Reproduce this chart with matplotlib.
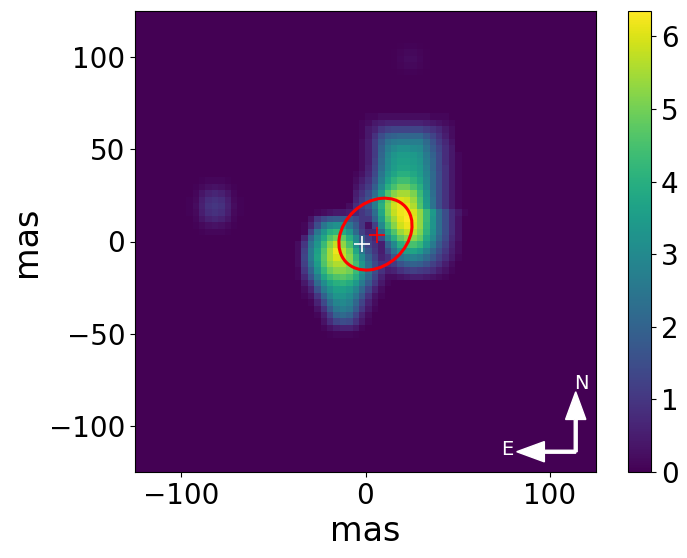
import numpy as np
import matplotlib
matplotlib.use("Agg")
import matplotlib.pyplot as plt
from matplotlib.patches import Ellipse

# values, cell by cell, top row first
main_rows = [
    [0,0,0,0,0,0,0,0,0,0,0,.1,.1,.2,.2,.2,.2,.2,.2,.2,.2,.1,.1,.1],
    [0,0,0,0,0,0,0,0,0,0,.1,.2,.4,.5,.6,.6,.6,.6,.6,.6,.5,.4,.3,.2,.1],
    [0,0,0,0,0,0,0,0,0,0,.1,.4,.6,1.0,1.2,1.3,1.3,1.3,1.3,1.3,1.1,.9,.7,.4,.2],
    [0,0,0,0,0,0,0,0,0,0,.1,.4,.9,1.5,1.9,2.0,2.1,2.1,2.1,2.1,1.7,1.3,.9,.5,.2],
    [0,0,0,0,0,0,0,0,0,0,.2,.5,1.1,1.8,2.4,2.6,2.7,2.7,2.7,2.7,2.2,1.6,1.1,.7,.3],
    [0,0,0,0,0,0,0,0,0,0,.2,.5,1.1,2.0,2.7,3.0,3.2,3.2,3.1,3.0,2.4,1.8,1.3,.8,.4],
    [0,0,0,0,0,0,0,0,0,0,.2,.5,1.1,2.1,2.9,3.3,3.5,3.5,3.4,3.2,2.6,2.0,1.4,.8,.4,.1],
    [0,0,0,0,0,0,0,0,0,0,.2,.5,1.2,2.2,3.0,3.4,3.6,3.6,3.5,3.3,2.7,2.1,1.4,.8,.4,.1],
    [0,0,0,0,0,0,0,0,0,0,.2,.6,1.3,2.3,3.1,3.5,3.7,3.7,3.6,3.4,2.8,2.1,1.4,.9,.4,.1],
    [0,0,0,0,0,0,0,0,0,.1,.3,.7,1.4,2.5,3.3,3.7,4.0,4.0,3.8,3.5,2.9,2.2,1.5,.9,.4,.1],
    [0,0,0,0,0,0,0,0,0,.2,.5,.9,1.6,2.7,3.6,4.1,4.4,4.4,4.1,3.7,3.0,2.2,1.5,.9,.4,.1],
    [0,0,0,0,0,0,0,0,0,.3,.7,1.1,1.9,3.0,4.0,4.5,4.9,4.9,4.5,4.0,3.1,2.2,1.5,.9,.4,.1],
    [0,0,0,0,0,0,0,0,0,.5,.9,1.4,2.3,3.5,4.6,5.2,5.5,5.5,5.1,4.3,3.3,2.3,1.5,.9,.4,.1],
    [0,0,0,0,0,0,0,0,0,.6,1.1,1.6,2.7,3.8,5.0,5.7,6.0,5.9,5.4,4.5,3.4,2.4,1.5,.9,.4,.1],
    [0,0,0,0,0,0,0,0,.2,.8,1.2,1.6,2.7,4.0,5.2,5.9,6.2,6.1,5.6,4.6,3.5,2.4,1.5,.9,.4,.1],
    [0,0,0,.1,.2,.3,.4,.4,.5,.7,1.0,1.3,2.3,3.8,5.1,5.8,6.2,6.3,6.0,5.3,4.3,3.4,2.3,1.5,.8,.4,.1],
    [0,0,.3,1.0,1.4,1.7,1.8,1.8,1.7,1.4,1.0,1.0,2.0,3.5,4.8,5.5,6.1,6.35,6.1,5.3,4.3,3.3,2.3,1.5,.8,.3],
    [0,.1,.6,1.5,2.5,3.0,3.2,3.2,2.5,1.8,1.0,.25,1.2,3.0,4.4,5.2,5.9,6.2,6.0,5.3,4.2,3.3,2.3,1.5,.8,.3],
    [0,.1,1.2,2.5,3.3,4.0,4.2,3.9,3.3,2.2,1.2,.7,.7,2.2,3.7,4.6,5.4,5.8,5.7,5.1,4.1,3.2,2.3,1.5,.8,.3],
    [0,.6,2.0,3.0,3.8,4.6,5.0,4.8,4.0,3.0,1.8,1.1,.7,1.5,3.0,4.0,4.8,5.2,5.2,4.8,3.8,3.0,2.1,1.4,.7,.3],
    [.2,1.0,2.4,3.3,4.3,5.2,5.8,5.3,4.5,3.2,2.0,1.3,.9,.5,2.0,3.0,4.0,4.4,4.5,4.2,3.4,2.6,1.8,1.2,.6,.2],
    [.2,1.2,2.6,3.6,4.6,5.5,6.2,5.7,5.0,3.8,2.5,1.6,1.0,.5,1.4,2.4,3.2,3.6,3.7,3.4,2.8,2.1,1.5,1.0,.5,.2],
    [.2,1.3,2.6,3.7,4.7,5.5,6.0,5.8,5.2,4.2,3.0,2.0,1.2,.6,.9,1.7,2.4,2.7,2.8,2.6,2.2,1.7,1.2,.8,.4,.1],
    [.2,1.2,2.4,3.5,4.6,5.3,5.6,5.6,5.2,4.4,3.3,2.3,1.4,.9,.9,1.1,1.6,1.9,2.0,1.9,1.6,1.2,.9,.5,.2],
    [.1,1.0,2.0,3.2,4.2,4.9,5.2,5.2,5.0,4.3,3.3,2.4,1.5,.9,.5,.6,.9,1.1,1.2,1.1,1.0,.8,.5,.3,.1],
    [.1,.7,1.6,2.7,3.7,4.3,4.6,4.7,4.5,4.0,3.0,2.2,1.3,.6,.2,.2,.3,.4,.5,.5,.4,.3,.2,.1],
    [0,.4,1.0,2.2,3.1,3.7,4.0,4.1,3.9,3.4,2.6,1.8,1.0,.4,.1],
    [0,.2,.6,1.6,2.6,3.2,3.6,3.6,3.4,2.9,2.1,1.3,.6,.2],
    [0,.1,.3,1.0,2.0,2.8,3.3,3.3,3.1,2.5,1.7,.9,.3,.1],
    [0,0,.1,.6,1.4,2.3,2.9,3.0,2.8,2.1,1.3,.6,.2],
    [0,0,0,.3,.9,1.8,2.5,2.7,2.5,1.8,1.0,.4,.1],
    [0,0,0,.1,.5,1.2,2.0,2.2,2.0,1.3,.6,.2],
    [0,0,0,0,.3,.8,1.3,1.5,1.4,.9,.4,.1],
    [0,0,0,0,.1,.3,.5,.6,.6,.4,.1],
    [0,0,0,0,0,.05,.1,.1,.1,.05],
]
west_blob = [
    [0,0,.05,.1,.1,.1,.05,0,0],
    [0,.05,.15,.25,.3,.25,.15,.05,0],
    [0,.1,.35,.55,.65,.55,.35,.1,0],
    [.05,.15,.5,.8,.9,.8,.5,.15,.05],
    [.05,.2,.55,.9,1.0,.9,.55,.2,.05],
    [.05,.15,.5,.8,.9,.8,.5,.15,.05],
    [0,.1,.35,.55,.65,.55,.35,.1,0],
    [0,.05,.15,.25,.3,.25,.15,.05,0],
    [0,0,.05,.1,.1,.1,.05,0,0],
]
north_blob = [
    [0,.03,.06,.06,.03,0],
    [.03,.08,.13,.13,.08,.03],
    [.03,.1,.18,.18,.1,.03],
    [.03,.08,.13,.13,.08,.03],
    [0,.03,.06,.06,.03,0],
]
x_ticks = [-100, 0, 100]
y_ticks = [-100, -50, 0, 50, 100]
cbar_ticks = [0, 1, 2, 3, 4, 5, 6]

# put the pieces on the full image
grid = np.zeros((72, 72))
for r, row in enumerate(main_rows):
    grid[16 + r, 25:25 + len(row)] = row
grid[26:35, 8:17] = west_blob
grid[5:10, 40:46] = north_blob

W, H = 687, 558
fig = plt.figure(figsize=(W / 100, H / 100), dpi=100)
ax = fig.add_axes([135 / W, 1 - 472 / H, 461 / W, 461 / H])
cax = fig.add_axes([628 / W, 1 - 472 / H, 23 / W, 461 / H])

im = ax.imshow(grid, cmap="viridis", vmin=0, vmax=6.35, origin="upper",
               extent=(-125, 125, -125, 125), interpolation="nearest")
ax.set_xticks(x_ticks)
ax.set_yticks(y_ticks)
ax.tick_params(labelsize=20)
ax.set_xlabel("mas", fontsize=24, labelpad=4)
ax.set_ylabel("mas", fontsize=24, labelpad=4)

cbar = fig.colorbar(im, cax=cax, ticks=cbar_ticks)
cbar.ax.tick_params(labelsize=20)

# ellipse and the two crosses
ax.add_patch(Ellipse((5.4, 4), 44, 34, angle=43, fill=False, edgecolor="red", linewidth=2.2))
ax.plot(6, 3.5, "+", color="red", markersize=11, markeredgewidth=1.2)
ax.plot(-1.7, -1.5, "+", color="white", markersize=11, markeredgewidth=1.2)

# north / east arrows
ax.arrow(114, -114, 0, 32.5, width=1.6, head_width=11, head_length=15,
         length_includes_head=True, color="white")
ax.arrow(114, -114, -32, 0, width=1.6, head_width=11, head_length=15,
         length_includes_head=True, color="white")
ax.text(117, -77, "N", color="white", fontsize=14, ha="center", va="center")
ax.text(77, -113, "E", color="white", fontsize=14, ha="center", va="center")

fig.savefig("out.png", dpi=100)
